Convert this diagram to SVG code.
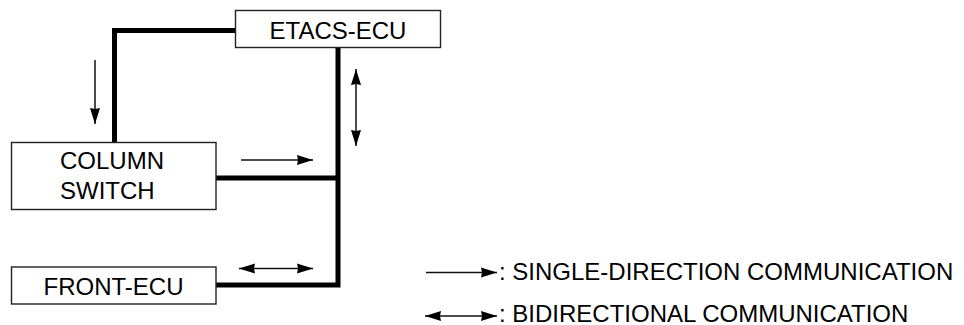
<svg xmlns="http://www.w3.org/2000/svg" width="964" height="325" viewBox="0 0 964 325">
<style>
.box{fill:#fff;stroke:#222;stroke-width:1.4}
.lbl{font-family:"Liberation Sans",Arial,sans-serif;font-size:24px;fill:#000}
.bus{fill:none;stroke:#000;stroke-width:5;stroke-linejoin:miter;stroke-linecap:butt}
.arr{fill:none;stroke:#111;stroke-width:1.5}
</style>
<defs>
<marker id="ah" markerUnits="userSpaceOnUse" markerWidth="17" markerHeight="11" refX="16" refY="5.5" orient="auto" viewBox="0 0 17 11">
<path d="M0,0.5 L16,5.5 L0,10.5 L1,5.5 Z" fill="#000"/>
</marker>
<marker id="at" markerUnits="userSpaceOnUse" markerWidth="17" markerHeight="11" refX="1" refY="5.5" orient="auto" viewBox="0 0 17 11">
<path d="M17,0.5 L1,5.5 L17,10.5 L16,5.5 Z" fill="#000"/>
</marker>
</defs>
<rect width="964" height="325" fill="#fff"/>
<g id="connectors">
<path class="bus" d="M235,30.5 H114.5 V142.5"/>
<path class="bus" d="M338,47 V285 H216"/>
<path class="bus" d="M216,178 H338"/>
<line class="arr" x1="95" y1="60" x2="95" y2="124" marker-end="url(#ah)"/>
<line class="arr" x1="241" y1="160" x2="313" y2="160" marker-end="url(#ah)"/>
<line class="arr" x1="356" y1="69" x2="356" y2="146" marker-start="url(#at)" marker-end="url(#ah)"/>
<line class="arr" x1="239" y1="268.5" x2="313" y2="268.5" marker-start="url(#at)" marker-end="url(#ah)"/>
</g>
<g id="etacs-ecu">
<rect class="box" x="235.5" y="10.5" width="205" height="37"/>
<text class="lbl" x="338" y="39" text-anchor="middle">ETACS-ECU</text>
</g>
<g id="column-switch">
<rect class="box" x="11.5" y="142.5" width="204.5" height="67"/>
<text class="lbl" x="60" y="169">COLUMN</text>
<text class="lbl" x="60" y="198.5">SWITCH</text>
</g>
<g id="front-ecu">
<rect class="box" x="11.5" y="267" width="204.5" height="37"/>
<text class="lbl" x="113.5" y="294.5" text-anchor="middle">FRONT-ECU</text>
</g>
<g id="legend">
<line class="arr" x1="426" y1="272.5" x2="497" y2="272.5" marker-end="url(#ah)"/>
<text class="lbl" x="499" y="280">: SINGLE-DIRECTION COMMUNICATION</text>
<line class="arr" x1="425" y1="316" x2="497" y2="316" marker-start="url(#at)" marker-end="url(#ah)"/>
<text class="lbl" x="499" y="321.5">: BIDIRECTIONAL COMMUNICATION</text>
</g>
</svg>
